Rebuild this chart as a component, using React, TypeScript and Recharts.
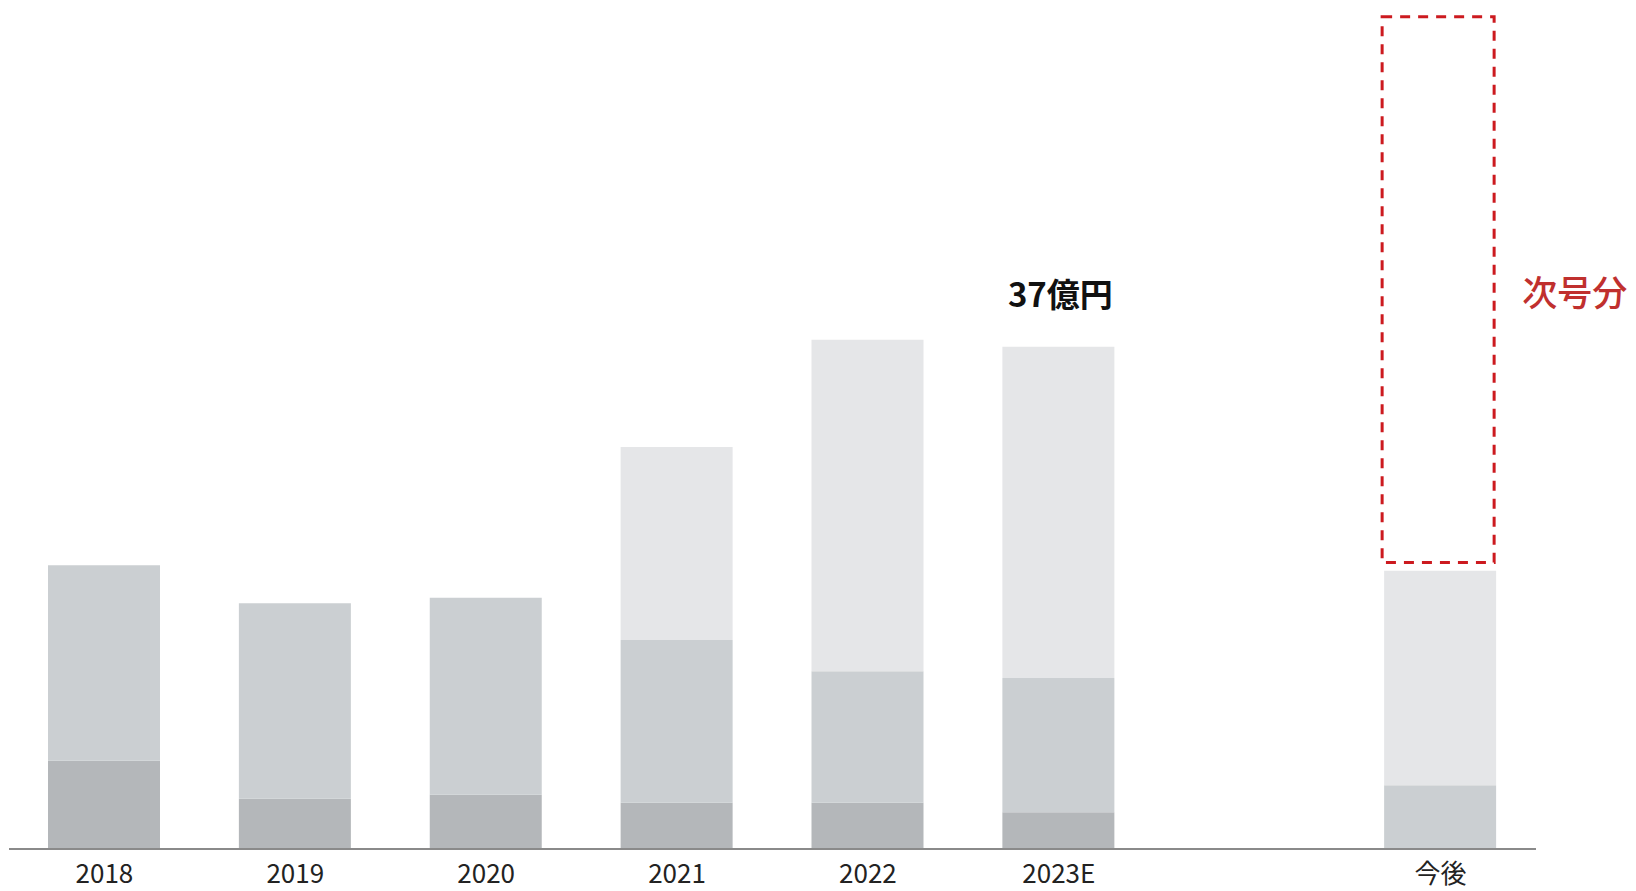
import { BarChart, Bar, XAxis, YAxis, LabelList } from "recharts";

const categories = ["2018", "2019", "2020", "2021", "2022", "2023E", "", "今後"];
const darkSeg = [6.5, 3.7, 4.0, 3.4, 3.4, 2.7, null, null];
const midSeg = [14.4, 14.4, 14.5, 12.0, 9.7, 9.9, null, 4.7];
const lightSeg = [null, null, null, 14.2, 24.4, 24.4, null, 15.8];
const gapSeg = [null, null, null, null, null, null, null, 0.6];
const futureSeg = [null, null, null, null, null, null, null, 40.2];
const totalLabels = ["", "", "", "", "", "37億円", "", ""];

const data = categories.map((name, i) => ({
  name,
  dark: darkSeg[i],
  mid: midSeg[i],
  light: lightSeg[i],
  gap: gapSeg[i],
  future: futureSeg[i],
  label: totalLabels[i],
}));

const FONT = '"Noto Sans CJK JP", "Noto Sans", sans-serif';

function Tick({ x, y, payload }: any) {
  if (!payload.value) return null;
  return (
    <text x={x} y={y + 34} textAnchor="middle" fill="#222" fontSize={26} fontFamily={FONT}>
      {payload.value}
    </text>
  );
}

function FutureBox(props: any) {
  const { x, y, width, height } = props;
  if (!height) return null;
  return (
    <g>
      <rect
        x={x - 2}
        y={y}
        width={width}
        height={height}
        fill="none"
        stroke="#cc1a1f"
        strokeWidth={3}
        strokeDasharray="10 8"
      />
      <text
        x={x + 138}
        y={y + 289}
        fill="#c0302e"
        fontSize={35}
        fontWeight={500}
        fontFamily={FONT}
      >
        次号分
      </text>
    </g>
  );
}

function TotalLabel(props: any) {
  const { x, y, width, value } = props;
  if (!value) return null;
  return (
    <text
      x={x + width / 2 + 2}
      y={y - 40}
      textAnchor="middle"
      fill="#111"
      fontSize={33}
      fontWeight="bold"
      fontFamily={FONT}
    >
      {value}
    </text>
  );
}

export default function App() {
  return (
    <BarChart
      width={1628}
      height={883}
      data={data}
      margin={{ top: 6, right: 100, left: 1, bottom: 2 }}
      barSize={112}
      style={{ overflow: "visible" }}
    >
      <XAxis
        dataKey="name"
        axisLine={{ stroke: "#8a8a8a", strokeWidth: 2 }}
        tickLine={false}
        tickSize={0}
        tickMargin={0}
        height={40}
        interval={0}
        tick={<Tick />}
      />
      <YAxis hide domain={[0, 61.5]} />
      <Bar dataKey="dark" stackId="a" fill="#b4b7ba" isAnimationActive={false} />
      <Bar dataKey="mid" stackId="a" fill="#cbcfd2" isAnimationActive={false} />
      <Bar dataKey="light" stackId="a" fill="#e5e6e8" isAnimationActive={false}>
        <LabelList dataKey="label" content={<TotalLabel />} />
      </Bar>
      <Bar dataKey="gap" stackId="a" fill="none" isAnimationActive={false} />
      <Bar dataKey="future" stackId="a" shape={<FutureBox />} isAnimationActive={false} />
    </BarChart>
  );
}
